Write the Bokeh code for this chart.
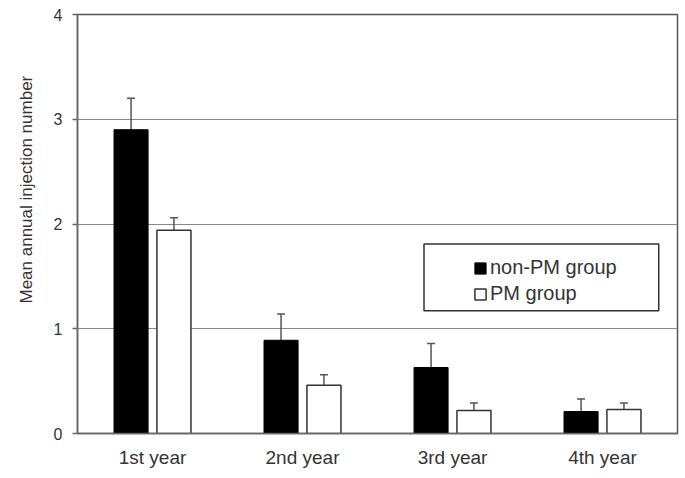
import math
from bokeh.plotting import figure
from bokeh.models import (ColumnDataSource, FactorRange, Whisker, TeeHead, Legend,
                          LegendItem, BoxAnnotation, Title, FixedTicker)
from bokeh.transform import dodge
from bokeh.embed import file_html
from bokeh.resources import INLINE

years = ["1st year", "2nd year", "3rd year", "4th year"]
nonpm_mean = [2.90, 0.89, 0.63, 0.21]
nonpm_err = [0.30, 0.25, 0.23, 0.12]
pm_mean = [1.94, 0.46, 0.22, 0.23]
pm_err = [0.12, 0.10, 0.07, 0.06]
y_ticks = [0, 1, 2, 3, 4]
series_labels = ["non-PM group", "PM group"]
y_label = "Mean annual injection number"

FONT = "Liberation Sans"
TXT = "#333333"

src = ColumnDataSource(dict(
    year=years,
    nonpm=nonpm_mean,
    nonpm_up=[m + e for m, e in zip(nonpm_mean, nonpm_err)],
    pm=pm_mean,
    pm_up=[m + e for m, e in zip(pm_mean, pm_err)],
))

p = figure(x_range=FactorRange(factors=years, range_padding=0), y_range=(0, 4),
           width=679, height=470, output_backend="svg", toolbar_location=None,
           min_border_left=76, min_border_right=2, min_border_top=14, min_border_bottom=36)
p.background_fill_color = "white"
p.border_fill_color = "white"

off = 0.143
bw = 0.227
r1 = p.vbar(x=dodge("year", -off, range=p.x_range), top="nonpm", width=bw, source=src,
            fill_color="black", line_color="black", line_width=1)
r2 = p.vbar(x=dodge("year", off, range=p.x_range), top="pm", width=bw, source=src,
            fill_color="white", line_color="#333333", line_width=1.5)

for col_lo, col_hi, d in (("nonpm", "nonpm_up", -off), ("pm", "pm_up", off)):
    w = Whisker(base=dodge("year", d, range=p.x_range), lower=col_lo, upper=col_hi, source=src,
                line_color="#555555", line_width=1.5, lower_head=None,
                upper_head=TeeHead(size=8, line_color="#555555", line_width=1.5))
    p.add_layout(w)

# legend frame
box = BoxAnnotation(left=2.31, right=3.875, bottom=1.171, top=1.81,
                    fill_color="white", fill_alpha=1, line_color="#333333", line_width=1.5,
                    line_alpha=1)
p.add_layout(box)

legend = Legend(items=[LegendItem(label=series_labels[0], renderers=[r1]),
                       LegendItem(label=series_labels[1], renderers=[r2])],
                location=(396, 128), orientation="vertical", padding=0, margin=0, spacing=3,
                glyph_width=14, glyph_height=14, label_standoff=3,
                label_text_font_size="20px", label_text_font=FONT, label_text_color=TXT,
                border_line_alpha=0, background_fill_alpha=0)
p.add_layout(legend)

ytitle = Title(text=y_label, align="left", offset=130, standoff=29,
               text_font_size="17px", text_font=FONT, text_color=TXT,
               text_font_style="normal")
p.add_layout(ytitle, "left")

# axes
p.yaxis.ticker = FixedTicker(ticks=y_ticks)
p.yaxis.major_tick_out = 5
p.yaxis.major_tick_in = 0
p.yaxis.minor_tick_out = 0
p.yaxis.minor_tick_in = 0
p.yaxis.major_label_standoff = 10
p.yaxis.major_label_text_font_size = "16px"
p.yaxis.major_label_text_font = FONT
p.yaxis.major_label_text_color = TXT
p.yaxis.major_tick_line_color = "#666666"
p.yaxis.major_tick_line_width = 1.5

p.xaxis.major_tick_out = 0
p.xaxis.major_tick_in = 0
p.xaxis.major_label_standoff = 13
p.xaxis.major_label_text_font_size = "19px"
p.xaxis.major_label_text_font = FONT
p.xaxis.major_label_text_color = TXT

for ax in (p.xaxis, p.yaxis):
    ax.axis_line_color = "#666666"
    ax.axis_line_width = 1.5

p.xgrid.grid_line_color = None
p.ygrid.ticker = FixedTicker(ticks=[1, 2, 3])
p.ygrid.grid_line_color = "#888888"
p.ygrid.grid_line_width = 1

p.outline_line_color = "#555555"
p.outline_line_width = 1.5
p.outline_line_alpha = 1

open("out.html", "w").write(file_html(p, INLINE))
